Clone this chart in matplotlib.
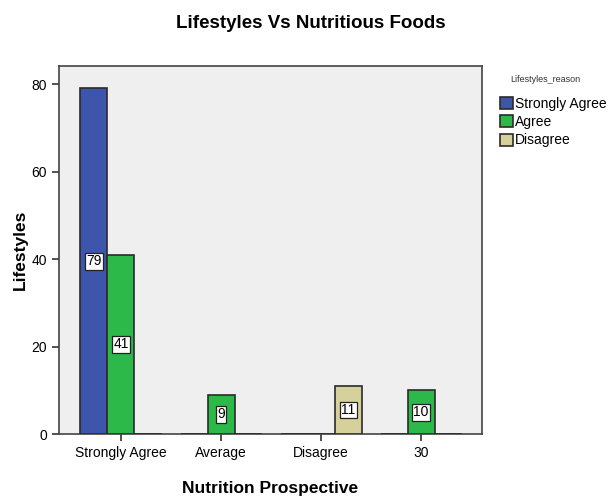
import matplotlib
matplotlib.use("Agg")
import matplotlib.pyplot as plt
import numpy as np

plt.rcParams['font.family'] = ['Liberation Sans', 'DejaVu Sans']

categories = ["Strongly Agree", "Average", "Disagree", "30"]
series_names = ["Strongly Agree", "Agree", "Disagree"]
strongly_agree = [79, 0, 0, 0]
agree = [41, 9, 0, 10]
disagree = [0, 0, 11, 0]
colors = ["#3d56ab", "#2db84a", "#d6d09a"]

fig = plt.figure(figsize=(6.15, 4.98), dpi=100)
ax = fig.add_axes([0.0959, 0.1285, 0.688, 0.7395])
ax.set_facecolor("#efefef")

x = np.arange(len(categories))
w = 0.27
values = [strongly_agree, agree, disagree]
for i, (name, vals, c) in enumerate(zip(series_names, values, colors)):
    pos = x + (i - 1) * w
    ax.bar(pos, vals, width=w, color=c, edgecolor="#2b2b2b", linewidth=1.2,
           label=name, zorder=3)
    for p, v in zip(pos, vals):
        if v > 0:
            ax.text(p, v / 2, str(v), ha="center", va="center", fontsize=10,
                    zorder=5,
                    bbox=dict(boxstyle="square,pad=0.1", fc="white",
                              ec="#222222", lw=0.9))

ax.set_xlim(-0.62, 3.61)
ax.set_ylim(0, 84.2)
ax.set_yticks([0, 20, 40, 60, 80])
ax.set_xticks(x)
ax.set_xticklabels(categories)
ax.tick_params(axis="both", labelsize=10, length=5, width=1.2, color="#333333")
for s in ax.spines.values():
    s.set_color("#444444")
    s.set_linewidth(1.2)

ax.set_xlabel("Nutrition Prospective", fontsize=12.5, fontweight="bold", labelpad=15)
ax.set_ylabel("Lifestyles", fontsize=12.5, fontweight="bold", labelpad=3)
fig.text(0.505, 0.952, "Lifestyles Vs Nutritious Foods", ha="center", va="center",
         fontsize=13.5, fontweight="bold")

fig.text(545 / 615, 1 - 80 / 498, "Lifestyles_reason", ha="center", va="center",
         fontsize=6.5, color="#333333")
leg = ax.legend(loc="upper left", bbox_to_anchor=(500 / 615, 1 - 97 / 498),
                bbox_transform=fig.transFigure, frameon=False,
                fontsize=10, handlelength=0.95, handleheight=0.95,
                handletextpad=0.15, labelspacing=0.3, borderaxespad=0,
                borderpad=0)

fig.savefig("out.png", dpi=100)
